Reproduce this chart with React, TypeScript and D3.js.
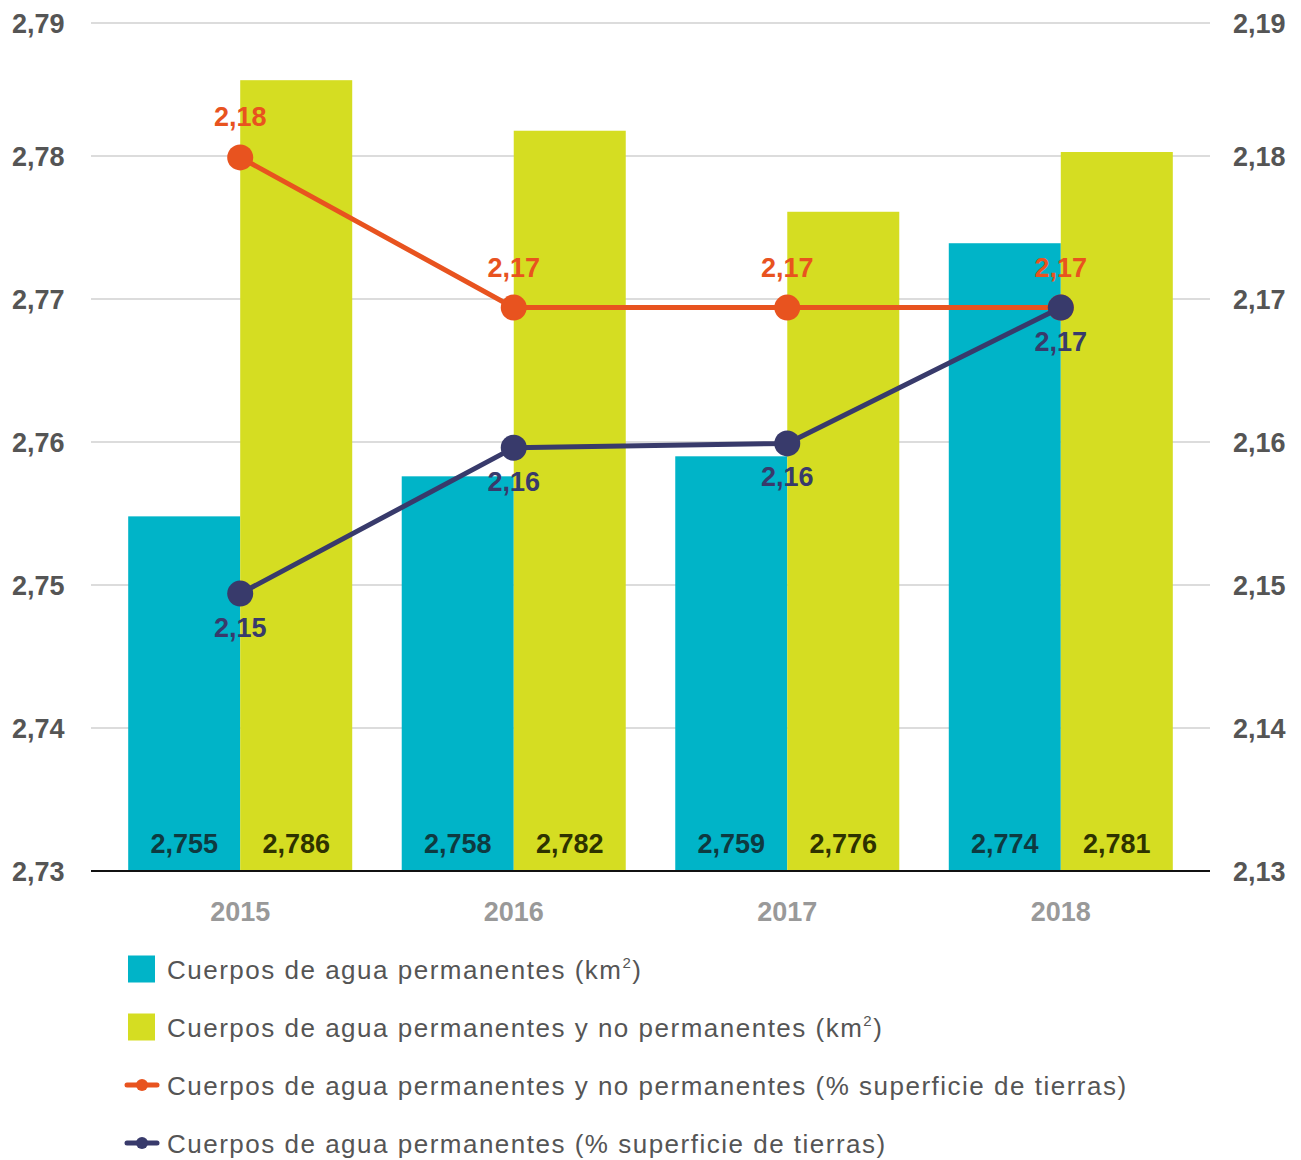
import React from "react";
import * as d3 from "d3";

const years = ["2015", "2016", "2017", "2018"];
const permKm = [2.7548, 2.7576, 2.759, 2.7739];
const allKm = [2.7857, 2.7819, 2.7761, 2.7803];
const permKmLabels = ["2,755", "2,758", "2,759", "2,774"];
const allKmLabels = ["2,786", "2,782", "2,776", "2,781"];
const allPct = [2.1799, 2.1694, 2.1694, 2.1694];
const permPct = [2.1494, 2.1596, 2.1599, 2.1694];
const leftTicks = [2.73, 2.74, 2.75, 2.76, 2.77, 2.78, 2.79];
const rightTicks = [2.13, 2.14, 2.15, 2.16, 2.17, 2.18, 2.19];

const legendItems = [
  { type: "rect", color: "#00b4c8", text: "Cuerpos de agua permanentes (km", sup: "2", tail: ")" },
  { type: "rect", color: "#d5dd22", text: "Cuerpos de agua permanentes y no permanentes (km", sup: "2", tail: ")" },
  { type: "line", color: "#e8531f", text: "Cuerpos de agua permanentes y no permanentes (% superficie de tierras)", sup: "", tail: "" },
  { type: "line", color: "#383a6b", text: "Cuerpos de agua permanentes (% superficie de tierras)", sup: "", tail: "" },
];

const CYAN = "#00b4c8";
const YELLOW = "#d5dd22";
const ORANGE = "#e8531f";
const NAVY = "#383a6b";
const FONT = "'Liberation Sans', Arial, Helvetica, sans-serif";

const W = 1301;
const H = 1160;
const plotLeft = 91;
const plotRight = 1210;

export default function App() {
  const yL = d3.scaleLinear().domain([2.73, 2.78, 2.79]).range([871, 156, 23]);
  const yR = d3.scaleLinear().domain([2.13, 2.18, 2.19]).range([871, 156, 23]);
  const x = d3
    .scaleBand<string>()
    .domain(years)
    .range([plotLeft, plotRight])
    .paddingInner(0.181)
    .paddingOuter(0.136);
  const bw = x.bandwidth();
  const half = bw / 2;
  const cx = (y: string) => (x(y) as number) + half;

  const f2 = (v: number) => d3.format(".2f")(v).replace(".", ",");

  const lineGen = (vals: number[]) =>
    d3
      .line<number>()
      .x((_, i) => cx(years[i]))
      .y((v) => yR(v))(vals) as string;

  const base = yL(2.73);

  return (
    <svg
      width={W}
      height={H}
      style={{ position: "absolute", left: 0, top: 0, background: "#fff" }}
      fontFamily={FONT}
    >
      {leftTicks.map((t) => (
        <line key={"g" + t} x1={plotLeft} x2={plotRight} y1={yL(t)} y2={yL(t)} stroke="#dcdcdc" strokeWidth={2} />
      ))}
      {leftTicks.map((t) => (
        <text key={"l" + t} x={12} y={yL(t) + 10} fontSize={27} fontWeight="bold" fill="#555">
          {f2(t)}
        </text>
      ))}
      {rightTicks.map((t) => (
        <text key={"r" + t} x={1233} y={yR(t) + 10} fontSize={27} fontWeight="bold" fill="#555">
          {f2(t)}
        </text>
      ))}
      {years.map((yr, i) => (
        <g key={"b" + yr}>
          <rect x={x(yr)} y={yL(permKm[i])} width={half} height={base - yL(permKm[i])} fill={CYAN} />
          <rect x={(x(yr) as number) + half} y={yL(allKm[i])} width={half} height={base - yL(allKm[i])} fill={YELLOW} />
          <text x={(x(yr) as number) + half / 2} y={base - 18} textAnchor="middle" fontSize={27} fontWeight="bold" fill="#0e3a40">
            {permKmLabels[i]}
          </text>
          <text x={(x(yr) as number) + half * 1.5} y={base - 18} textAnchor="middle" fontSize={27} fontWeight="bold" fill="#2e3200">
            {allKmLabels[i]}
          </text>
          <text x={cx(yr)} y={921} textAnchor="middle" fontSize={27} fontWeight="bold" fill="#999">
            {yr}
          </text>
        </g>
      ))}
      <line x1={plotLeft} x2={plotRight} y1={base} y2={base} stroke="#111" strokeWidth={2} />
      <path d={lineGen(allPct)} fill="none" stroke={ORANGE} strokeWidth={5} />
      {allPct.map((v, i) => (
        <circle key={"oc" + i} cx={cx(years[i])} cy={yR(v)} r={13} fill={ORANGE} />
      ))}
      <path d={lineGen(permPct)} fill="none" stroke={NAVY} strokeWidth={5} />
      {permPct.map((v, i) => (
        <circle key={"nc" + i} cx={cx(years[i])} cy={yR(v)} r={13} fill={NAVY} />
      ))}
      {allPct.map((v, i) => (
        <text key={"ot" + i} x={cx(years[i])} y={yR(v) - 31} textAnchor="middle" fontSize={27} fontWeight="bold" fill={ORANGE}>
          {f2(v)}
        </text>
      ))}
      {permPct.map((v, i) => (
        <text key={"nt" + i} x={cx(years[i])} y={yR(v) + 43} textAnchor="middle" fontSize={27} fontWeight="bold" fill={NAVY}>
          {f2(v)}
        </text>
      ))}
      {legendItems.map((it, i) => {
        const yc = 969 + i * 58;
        return (
          <g key={"lg" + i}>
            {it.type === "rect" ? (
              <rect x={128} y={yc - 13.5} width={27} height={27} fill={it.color} />
            ) : (
              <g>
                <line x1={127} x2={157} y1={yc} y2={yc} stroke={it.color} strokeWidth={5} strokeLinecap="round" />
                <circle cx={142} cy={yc} r={6} fill={it.color} />
              </g>
            )}
            <text x={167} y={yc + 10} fontSize={26} fill="#555" letterSpacing={1.5}>
              {it.text}
              {it.sup ? (
                <tspan fontSize={15} dy={-11}>
                  {it.sup}
                </tspan>
              ) : null}
              {it.tail ? <tspan dy={it.sup ? 11 : 0}>{it.tail}</tspan> : null}
            </text>
          </g>
        );
      })}
    </svg>
  );
}
